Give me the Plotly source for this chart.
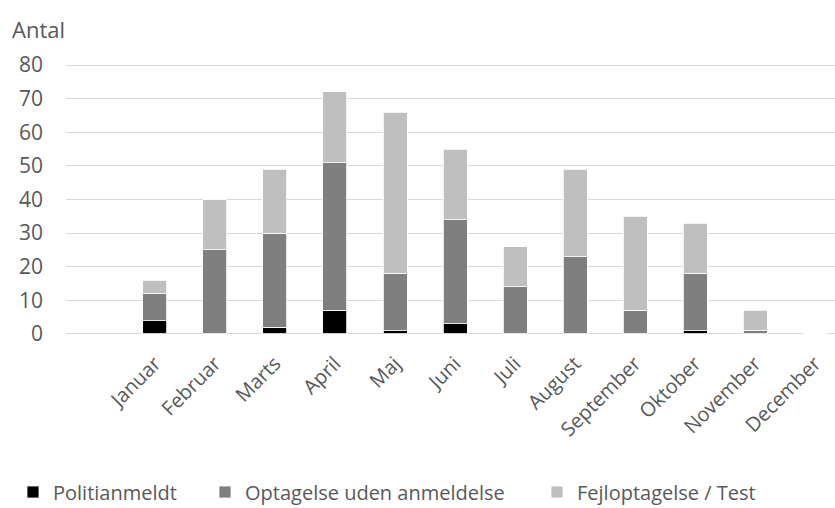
import plotly.graph_objects as go

months = ["Januar", "Februar", "Marts", "April", "Maj", "Juni", "Juli",
          "August", "September", "Oktober", "November", "December"]
politianmeldt = [4, 0, 2, 7, 1, 3, 0, 0, 0, 1, 0, 0]
optagelse_uden = [8, 25, 28, 44, 17, 31, 14, 23, 7, 17, 1, 0]
fejloptagelse = [4, 15, 19, 21, 48, 21, 12, 26, 28, 15, 6, 0]

series_names = ["Politianmeldt", "Optagelse uden anmeldelse", "Fejloptagelse / Test"]
series_values = [politianmeldt, optagelse_uden, fejloptagelse]
series_colors = ["#000000", "#7f7f7f", "#bfbfbf"]
legend_ids = ["legend", "legend2", "legend3"]
legend_x = [13, 205, 537]
y_ticks = [0, 10, 20, 30, 40, 50, 60, 70, 80]

FONT = "Open Sans"
TXT = "#595959"
W, H = 835, 508

fig = go.Figure()
for name, vals, col, lg in zip(series_names, series_values, series_colors, legend_ids):
    fig.add_trace(go.Bar(
        x=months, y=vals, name=name, legend=lg,
        marker=dict(color=col, line=dict(color="#ffffff", width=0.8)),
        width=0.4,
    ))

legend_common = dict(orientation="h", xref="container", yref="container",
                     yanchor="middle", xanchor="left", y=(H - 492) / H,
                     font=dict(family=FONT, size=20, color=TXT),
                     itemclick=False, bgcolor="rgba(0,0,0,0)")
layout_legends = {}
for lg, lx in zip(legend_ids, legend_x):
    layout_legends[lg] = dict(legend_common, x=lx / W)

fig.update_layout(
    barmode="stack",
    width=W, height=H,
    margin=dict(l=66, r=0, t=64, b=173, autoexpand=False),
    paper_bgcolor="white", plot_bgcolor="white",
    font=dict(family=FONT, size=21, color=TXT),
    showlegend=True,
    annotations=[dict(text="Antal", xref="paper", yref="paper", x=-0.073, y=1.13,
                      xanchor="left", yanchor="middle", showarrow=False,
                      font=dict(family=FONT, size=22, color=TXT))],
    **layout_legends,
)
fig.update_xaxes(
    type="category", range=[-1.483, 11.333],
    tickangle=-45, showgrid=False, showline=False, ticks="",
    ticklabelstandoff=12,
    tickfont=dict(family=FONT, size=20, color=TXT),
)
fig.update_yaxes(
    range=[-0.3, 80.3], tickvals=y_ticks,
    showgrid=True, gridcolor="#d9d9d9", gridwidth=1.3,
    zeroline=True, zerolinecolor="#d9d9d9", zerolinewidth=1.3,
    showline=False, ticks="", ticklabelstandoff=22,
    tickfont=dict(family=FONT, size=21, color=TXT),
)

fig.write_html("out.html")
